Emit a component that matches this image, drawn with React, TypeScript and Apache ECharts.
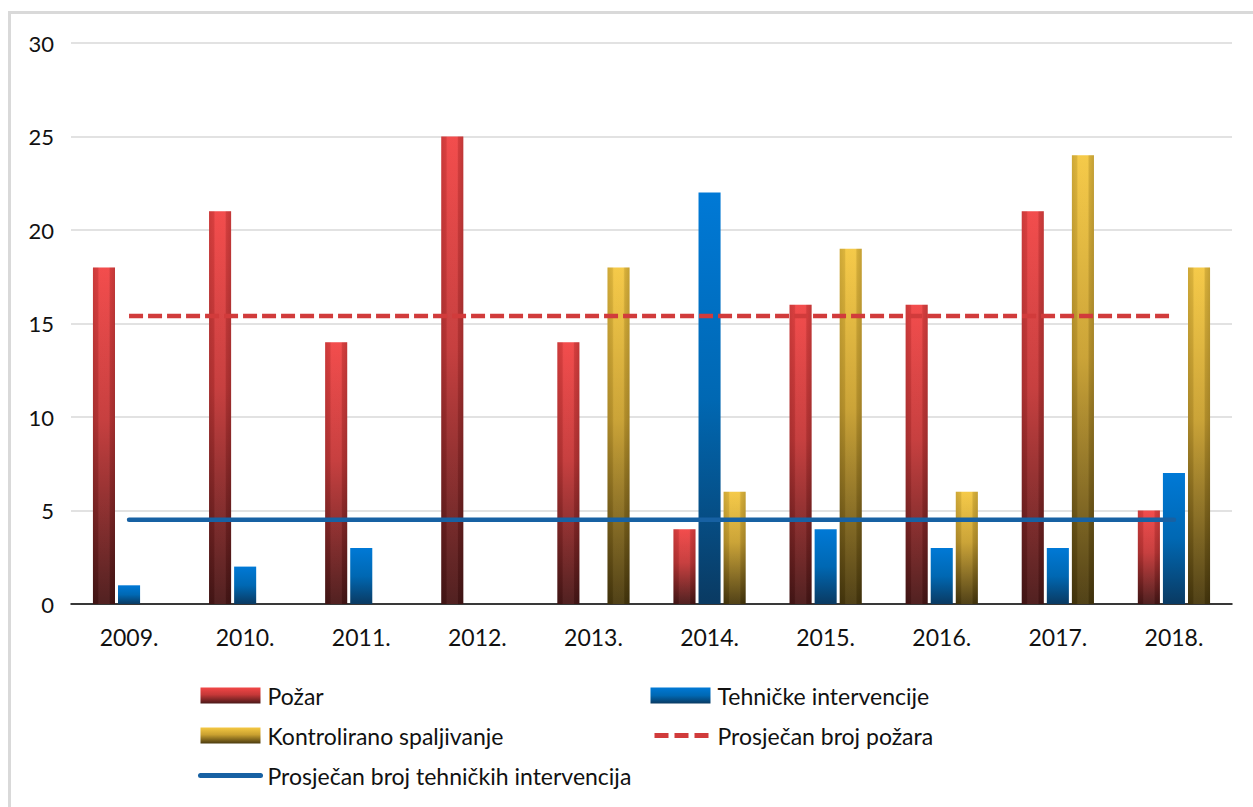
import React, { useEffect, useRef } from "react";
import * as echarts from "echarts";

const godine = ["2009.", "2010.", "2011.", "2012.", "2013.", "2014.", "2015.", "2016.", "2017.", "2018."];
const pozar = [18, 21, 14, 25, 14, 4, 16, 16, 21, 5];
const tehnicke = [1, 2, 3, 0, 0, 22, 4, 3, 3, 7];
const kontrolirano = [0, 0, 0, 0, 18, 6, 19, 6, 24, 18];
const yTicks = [0, 5, 10, 15, 20, 25, 30];

const mean = (arr: number[]) => arr.reduce((s, v) => s + v, 0) / arr.length;
const prosjekPozara = pozar.map(() => mean(pozar));
const prosjekTehnickih = tehnicke.map(() => mean(tehnicke));

const FONT = "Lato";
const TEXT = "#111111";
const RED_LINE = "#d13b3b";
const BLUE_LINE = "#1761a3";

type Stops = [number, string][];

const vertical = (stops: Stops) =>
  new echarts.graphic.LinearGradient(
    0, 0, 0, 1,
    stops.map(([offset, color]) => ({ offset, color }))
  );

const RED: Stops = [[0, "#f24646"], [0.45, "#c53838"], [1, "#4a1818"]];
const BLUE: Stops = [[0, "#0079d6"], [0.5, "#0068b3"], [1, "#0a3a62"]];
const GOLD: Stops = [[0, "#f5c842"], [0.45, "#c9a030"], [1, "#4a3a0e"]];

// side shading that gives the red and gold bars a rounded look
const sideShade = () =>
  new echarts.graphic.LinearGradient(1, 0, 0, 0, [
    { offset: 0, color: "rgba(0,0,0,0.2)" },
    { offset: 0.22, color: "rgba(0,0,0,0.12)" },
    { offset: 0.3, color: "rgba(255,255,255,0.04)" },
    { offset: 0.7, color: "rgba(255,255,255,0.04)" },
    { offset: 0.78, color: "rgba(0,0,0,0.1)" },
    { offset: 1, color: "rgba(0,0,0,0.16)" },
  ]);

const BAR_FRACTION = 0.19;
const STEP_FRACTION = 0.216;

function barSeries(name: string, values: number[], stops: Stops, slot: number, shaded: boolean) {
  return {
    name,
    type: "custom",
    itemStyle: { color: vertical(stops) },
    encode: { x: 0, y: 1 },
    data: values.map((v, i) => [i, v]),
    z: 2,
    renderItem: (params: any, api: any) => {
      const idx = api.value(0);
      const val = api.value(1);
      if (!val) return null;
      const base = api.coord([idx, 0]);
      const top = api.coord([idx, val]);
      const band = api.size([1, 0])[0];
      const w = band * BAR_FRACTION;
      const cx = base[0] + slot * band * STEP_FRACTION;
      const shape = { x: cx - w / 2, y: top[1], width: w, height: base[1] - top[1] };
      const children: any[] = [
        { type: "rect", shape, style: { fill: vertical(stops) } },
      ];
      if (shaded) children.push({ type: "rect", shape, style: { fill: sideShade() } });
      return { type: "group", children };
    },
  };
}

export default function App() {
  const ref = useRef<HTMLDivElement>(null);

  useEffect(() => {
    if (!ref.current) return;
    const chart = echarts.init(ref.current, undefined, { renderer: "svg" });
    const legendText = { fontFamily: FONT, fontSize: 23, color: TEXT, lineHeight: 22, padding: [0, 0, 0, 2] };
    const legendBase = {
      orient: "vertical",
      top: 684,
      padding: 0,
      itemWidth: 60,
      itemHeight: 16,
      itemGap: 17,
      textStyle: legendText,
    };
    // line entries show only the stroke, no marker
    const lineEntry = (name: string, color: string, dashed: boolean) => ({
      name,
      itemStyle: { opacity: 0 },
      lineStyle: { color, width: 5, type: dashed ? [14, 6] : "solid", dashOffset: dashed ? -4 : 0 },
    });

    chart.setOption({
      animation: false,
      backgroundColor: "#ffffff",
      textStyle: { fontFamily: FONT },
      graphic: [
        {
          type: "rect",
          shape: { x: 9.5, y: 12.5, width: 1400, height: 1000 },
          style: { fill: "none", stroke: "#d9d9d9", lineWidth: 3 },
          silent: true,
        },
      ],
      grid: { left: 71, right: 21, top: 43, bottom: 203, containLabel: false },
      xAxis: {
        type: "category",
        data: godine,
        boundaryGap: true,
        axisLine: { lineStyle: { color: "#000000", width: 1.5 } },
        axisTick: { show: false },
        axisLabel: { fontFamily: FONT, fontSize: 23, color: TEXT, margin: 21 },
      },
      yAxis: {
        type: "value",
        min: yTicks[0],
        max: yTicks[yTicks.length - 1],
        interval: 5,
        axisLine: { show: false },
        axisTick: { show: false },
        axisLabel: { fontFamily: FONT, fontSize: 22, color: TEXT, margin: 17 },
        splitLine: { lineStyle: { color: "#d9d9d9", width: 1.5 } },
      },
      legend: [
        {
          ...legendBase,
          left: 198,
          data: [
            { name: "Požar", icon: "rect" },
            { name: "Kontrolirano spaljivanje", icon: "rect" },
            lineEntry("Prosječan broj tehničkih intervencija", BLUE_LINE, false),
          ],
        },
        {
          ...legendBase,
          left: 648,
          data: [
            { name: "Tehničke intervencije", icon: "rect" },
            lineEntry("Prosječan broj požara", RED_LINE, true),
          ],
        },
      ],
      series: [
        barSeries("Požar", pozar, RED, -1, true),
        barSeries("Tehničke intervencije", tehnicke, BLUE, 0, false),
        barSeries("Kontrolirano spaljivanje", kontrolirano, GOLD, 1, true),
        {
          name: "Prosječan broj požara",
          type: "line",
          data: prosjekPozara,
          symbol: "none",
          z: 5,
          itemStyle: { color: RED_LINE },
          lineStyle: { color: RED_LINE, width: 4.5, type: [14, 5], cap: "butt" },
        },
        {
          name: "Prosječan broj tehničkih intervencija",
          type: "line",
          data: prosjekTehnickih,
          symbol: "none",
          z: 5,
          itemStyle: { color: BLUE_LINE },
          lineStyle: { color: BLUE_LINE, width: 4.5, cap: "round" },
        },
      ],
    });

    return () => chart.dispose();
  }, []);

  return (
    <div style={{ position: "fixed", left: 0, top: 0, width: 1253, height: 807, overflow: "hidden" }}>
      <div ref={ref} style={{ width: 1253, height: 807 }} />
    </div>
  );
}
